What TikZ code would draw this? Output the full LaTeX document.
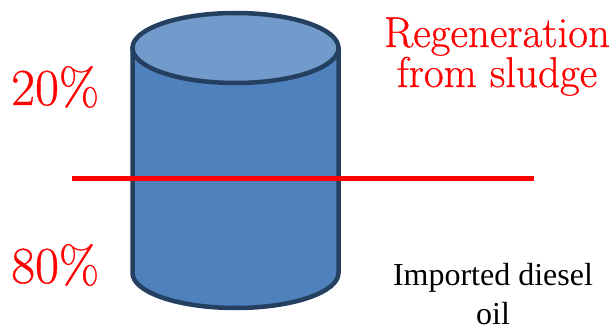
\documentclass[tikz,border=0pt]{standalone}
\usepackage{fontspec}
\newfontfamily\timesfont{Liberation Serif}
\newfontfamily\heavyserif[FakeBold=0.6]{Latin Modern Roman}
\definecolor{tankside}{HTML}{4F81BD}
\definecolor{tanktop}{HTML}{729ACA}
\definecolor{tankedge}{HTML}{243F60}
\definecolor{markred}{HTML}{FF0000}
\tikzset{
  tankline/.style={draw=tankedge, line width=4.5pt, line join=round},
  pct/.style={text=markred, inner sep=0pt, font=\heavyserif\fontsize{52}{54}\selectfont},
  redlabel/.style={text=markred, inner sep=0pt, align=center, font=\heavyserif\fontsize{43}{40}\selectfont},
  blacklabel/.style={text=black, inner sep=0pt, align=center, font=\timesfont\fontsize{32}{39}\selectfont},
}
\begin{document}
\begin{tikzpicture}[x=1pt,y=-1pt]
\useasboundingbox (0,0) rectangle (616,331);
% storage tank: body and lid
\coordinate (tc) at (235.5,48);
\coordinate (bc) at (235.5,273);
\path[tankline, fill=tankside]
  (132.5,48) -- (132.5,273)
  arc[start angle=180, end angle=360, x radius=103pt, y radius=35pt]
  -- (338.5,48) -- cycle;
\path[tankline, fill=tanktop] (tc) ellipse [x radius=103pt, y radius=35pt];
% split marker across the tank
\coordinate (sl) at (72,178.5);
\coordinate (sr) at (534,178.5);
\draw[markred, line width=5pt] (sl) -- (sr);
% labels
\node[pct, anchor=base west] (up) at (11,105) {20\%};
\node[pct, anchor=base west] (low) at (11,283) {80\%};
\node[redlabel, anchor=base] (regen) at (497,87) {Regeneration\\from sludge};
\node[blacklabel, anchor=base] (diesel) at (493,324) {Imported diesel\\oil};
\end{tikzpicture}
\end{document}
